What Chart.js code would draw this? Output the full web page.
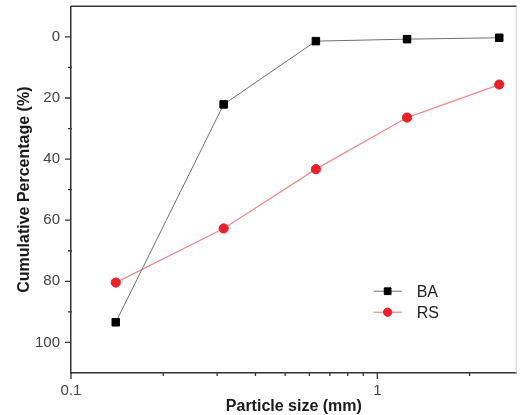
<!DOCTYPE html>
<html><head><meta charset="utf-8">
<script src="https://cdn.jsdelivr.net/npm/chart.js@4/dist/chart.umd.min.js"></script>
<style>html,body{margin:0;padding:0;background:#fff;} canvas{display:block;}</style>
</head><body>
<canvas id="c" width="523" height="415"></canvas>
<script>
const particleSizes = [0.14, 0.315, 0.63, 1.25, 2.5];
const baValues = [93.4, 22.1, 1.4, 0.75, 0.3];
const rsValues = [80.4, 62.7, 43.3, 26.4, 15.6];
const seriesNames = ['BA', 'RS'];
const xTickLabels = [0.1, 1];
const xMinorTicks = [0.2, 0.3, 0.4, 0.5, 0.6, 0.7, 0.8, 0.9, 2];
const yTickLabels = [0, 20, 40, 60, 80, 100];
const yMinorTicks = [10, 30, 50, 70, 90];
const xTitle = 'Particle size (mm)';
const yTitle = 'Cumulative Percentage (%)';

Chart.defaults.font.family = '"Liberation Sans", Arial, sans-serif';

const toPoints = vals => particleSizes.map((x, i) => ({x: x, y: vals[i]}));

const axisPlugin = {
  id: 'axisDecor',
  afterDraw(chart) {
    const {ctx, chartArea: a, scales: {x, y}} = chart;
    ctx.save();
    ctx.strokeStyle = '#333'; ctx.lineWidth = 1.5;
    ctx.beginPath(); ctx.moveTo(a.left, a.top); ctx.lineTo(a.right, a.top); ctx.stroke();
    ctx.strokeStyle = '#d0d0d0'; ctx.lineWidth = 1;
    ctx.beginPath(); ctx.moveTo(a.right - 0.5, a.top); ctx.lineTo(a.right - 0.5, a.bottom); ctx.stroke();
    ctx.strokeStyle = '#333'; ctx.lineWidth = 1.3;
    ctx.beginPath();
    yTickLabels.forEach(v => { const p = y.getPixelForValue(v); ctx.moveTo(a.left - 6, p); ctx.lineTo(a.left, p); });
    yMinorTicks.forEach(v => { const p = y.getPixelForValue(v); ctx.moveTo(a.left - 3, p); ctx.lineTo(a.left + 1, p); });
    xTickLabels.forEach(v => { const p = x.getPixelForValue(v); ctx.moveTo(p, a.bottom); ctx.lineTo(p, a.bottom + 6); });
    xMinorTicks.forEach(v => { const p = x.getPixelForValue(v); ctx.moveTo(p, a.bottom - 1); ctx.lineTo(p, a.bottom + 3); });
    ctx.stroke();
    ctx.restore();
  }
};

const legendPlugin = {
  id: 'inLegend',
  afterDatasetsDraw(chart) {
    const {ctx, chartArea: a} = chart;
    const x0 = a.left + 0.679 * (a.right - a.left);
    const y0 = a.top + 0.777 * (a.bottom - a.top);
    const rowH = 21, lineLen = 28;
    chart.data.datasets.forEach((ds, i) => {
      const yy = y0 + i * rowH;
      ctx.save();
      ctx.strokeStyle = ds.borderColor; ctx.lineWidth = ds.borderWidth;
      ctx.beginPath(); ctx.moveTo(x0, yy); ctx.lineTo(x0 + lineLen, yy); ctx.stroke();
      ctx.fillStyle = ds.pointBackgroundColor; ctx.strokeStyle = ds.pointBorderColor;
      ctx.lineWidth = ds.pointBorderWidth;
      Chart.helpers.drawPoint(ctx, {pointStyle: ds.pointStyle, radius: ds.pointRadius * 0.9, borderWidth: ds.pointBorderWidth, rotation: 0}, x0 + lineLen / 2, yy);
      ctx.fillStyle = '#222';
      ctx.font = '16px "Liberation Sans", Arial, sans-serif';
      ctx.textBaseline = 'middle'; ctx.textAlign = 'left';
      ctx.fillText(ds.label, x0 + lineLen + 15, yy + 1);
      ctx.restore();
    });
  }
};

new Chart(document.getElementById('c'), {
  type: 'line',
  data: {
    datasets: [
      {
        label: seriesNames[0], data: toPoints(baValues),
        borderColor: '#707070', borderWidth: 1,
        pointStyle: 'rect', pointRadius: 5.3,
        pointBackgroundColor: '#000', pointBorderColor: '#000', pointBorderWidth: 1,
        tension: 0
      },
      {
        label: seriesNames[1], data: toPoints(rsValues),
        borderColor: '#f08c8c', borderWidth: 1.3,
        pointStyle: 'circle', pointRadius: 4.6,
        pointBackgroundColor: '#e8202a', pointBorderColor: '#e8202a', pointBorderWidth: 1,
        tension: 0
      }
    ]
  },
  options: {
    responsive: false, animation: false,
    layout: {padding: {left: 0, right: 1, top: 6, bottom: 0}},
    plugins: {legend: {display: false}, tooltip: {enabled: false}},
    scales: {
      x: {
        type: 'logarithmic', position: 'bottom', min: 0.1, max: 2.85,
        afterBuildTicks: s => { s.ticks = xTickLabels.map(v => ({value: v, major: true})); },
        afterFit: s => { s.height = 42; s.paddingLeft = 0; s.paddingRight = 0; },
        grid: {display: false, drawTicks: false},
        border: {display: true, color: '#333', width: 1.5},
        ticks: {color: '#444', font: {size: 15}, padding: 9, callback: v => String(v), maxRotation: 0, autoSkip: false},
        title: {display: true, text: xTitle, color: '#1a1a1a', font: {size: 16, weight: 'bold', lineHeight: 1}, padding: {top: 0, bottom: 0}}
      },
      y: {
        type: 'linear', reverse: true, min: -10, max: 110,
        afterBuildTicks: s => { s.ticks = yTickLabels.map(v => ({value: v})); },
        afterFit: s => { s.width = 71; s.paddingTop = 0; s.paddingBottom = 0; },
        grid: {display: false, drawTicks: false},
        border: {display: true, color: '#333', width: 1.5},
        ticks: {color: '#444', font: {size: 15}, padding: 11},
        title: {display: true, text: yTitle, color: '#1a1a1a', font: {size: 16, weight: 'bold'}, padding: {top: 15, bottom: 0}}
      }
    }
  },
  plugins: [axisPlugin, legendPlugin]
});
</script>
</body></html>
